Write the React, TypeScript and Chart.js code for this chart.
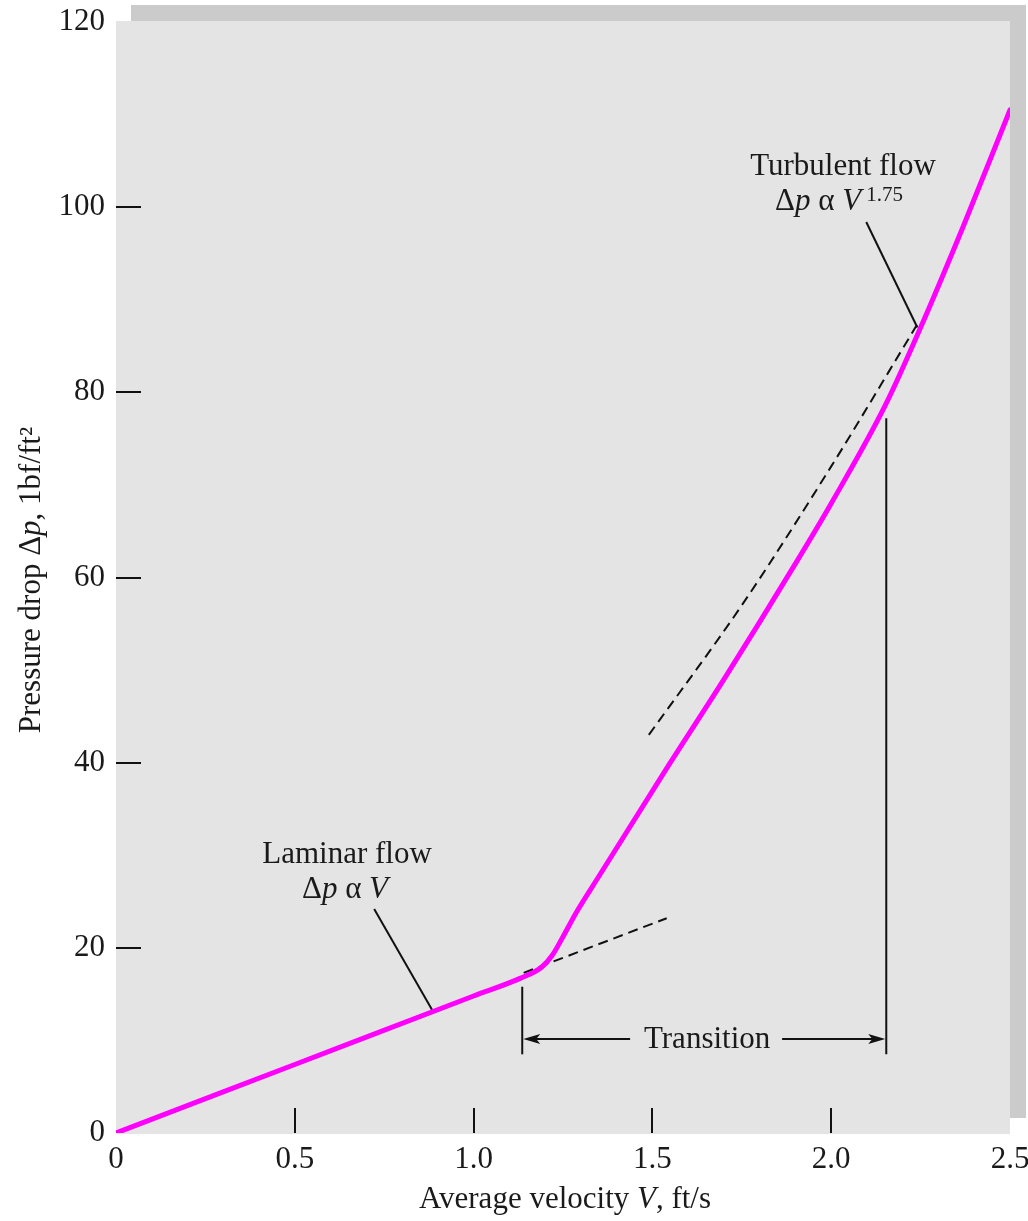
import React, { useEffect, useRef } from "react";
import { Chart, registerables } from "chart.js";

Chart.register(...registerables);

const FONT = '"Liberation Serif", "Times New Roman", serif';

// Axis ticks
const xTickValues = [0, 0.5, 1.0, 1.5, 2.0, 2.5];
const xTickLabels = ["0", "0.5", "1.0", "1.5", "2.0", "2.5"];
const yTickValues = [0, 20, 40, 60, 80, 100, 120];
const yTickLabels = ["0", "20", "40", "60", "80", "100", "120"];

// Main measured curve (velocity ft/s, pressure drop lbf/ft2)
const curveV = [0, 0.5, 1.0, 1.13, 1.19, 1.22, 1.25, 1.29, 1.35, 1.55, 1.7, 1.9, 2.0, 2.15, 2.25, 2.37, 2.5];
const curveDp = [0, 7.4, 14.8, 16.7, 17.9, 19.2, 21.2, 24.0, 27.7, 40.0, 49.0, 61.5, 68.0, 78.5, 87.0, 98.0, 110.5];

// Dashed asymptotes
const laminarDashV = [1.14, 1.54];
const laminarDashDp = [17.3, 23.2];
const turbulentDashV = [1.49, 1.75, 2.0, 2.24];
const turbulentDashDp = [43.0, 57.0, 72.0, 87.3];

// Pointer leader lines
const laminarPointerV = [0.722, 0.887];
const laminarPointerDp = [24.2, 13.1];
const turbulentPointerV = [2.098, 2.241];
const turbulentPointerDp = [98.4, 87.0];

// Transition range markers
const transitionV = [1.136, 2.154];
const transitionLeftDp = [8.5, 15.8];
const transitionRightDp = [8.5, 77.2];
const transitionArrowDp = 10.15;
const transitionLabelV = 1.653;

const pts = (xs: number[], ys: number[]) => xs.map((x, i) => ({ x, y: ys[i] }));

type Part = { t: string; italic?: boolean; size?: number; dy?: number };

function drawRich(ctx: CanvasRenderingContext2D, parts: Part[], x: number, y: number, align: "center" | "left", baseSize: number) {
  const font = (p: Part) => `${p.italic ? "italic " : ""}${p.size ?? baseSize}px ${FONT}`;
  let total = 0;
  for (const p of parts) {
    ctx.font = font(p);
    total += ctx.measureText(p.t).width;
  }
  let cx = align === "center" ? x - total / 2 : x;
  ctx.textAlign = "left";
  ctx.textBaseline = "alphabetic";
  for (const p of parts) {
    ctx.font = font(p);
    ctx.fillText(p.t, cx, y + (p.dy ?? 0));
    cx += ctx.measureText(p.t).width;
  }
}

const backgroundPlugin = {
  id: "bgPanel",
  beforeDraw(chart: any) {
    const { ctx, chartArea: a } = chart;
    ctx.save();
    ctx.fillStyle = "#cbcbcb";
    ctx.fillRect(a.left + 15, a.top - 17, a.right - a.left + 1, a.bottom - a.top + 2);
    ctx.fillStyle = "#e4e4e4";
    ctx.fillRect(a.left, a.top - 1, a.right - a.left, a.bottom - a.top + 2);
    ctx.restore();
  },
};

const decorPlugin = {
  id: "decor",
  afterDatasetsDraw(chart: any) {
    const { ctx, chartArea: a } = chart;
    const xs = chart.scales.x;
    const ys = chart.scales.y;
    const TEXT = "#1a1a1a";
    ctx.save();
    ctx.strokeStyle = "#111";
    ctx.fillStyle = "#111";
    ctx.lineWidth = 2;

    // inward tick marks
    for (const v of yTickValues) {
      if (v === yTickValues[0] || v === yTickValues[yTickValues.length - 1]) continue;
      const py = Math.round(ys.getPixelForValue(v));
      ctx.beginPath();
      ctx.moveTo(a.left, py);
      ctx.lineTo(a.left + 25, py);
      ctx.stroke();
    }
    for (const v of xTickValues) {
      if (v === xTickValues[0] || v === xTickValues[xTickValues.length - 1]) continue;
      const px = Math.round(xs.getPixelForValue(v));
      ctx.beginPath();
      ctx.moveTo(px, a.bottom);
      ctx.lineTo(px, a.bottom - 25);
      ctx.stroke();
    }

    // transition arrow
    const ay = ys.getPixelForValue(transitionArrowDp);
    const x1 = xs.getPixelForValue(transitionV[0]);
    const x2 = xs.getPixelForValue(transitionV[1]);
    const xc = xs.getPixelForValue(transitionLabelV);
    ctx.lineWidth = 2;
    ctx.beginPath();
    ctx.moveTo(x1 + 10, ay);
    ctx.lineTo(xc - 77, ay);
    ctx.moveTo(xc + 75, ay);
    ctx.lineTo(x2 - 10, ay);
    ctx.stroke();
    const head = (tipX: number, dir: number) => {
      ctx.beginPath();
      ctx.moveTo(tipX, ay);
      ctx.lineTo(tipX - dir * 17, ay - 5);
      ctx.lineTo(tipX - dir * 13, ay);
      ctx.lineTo(tipX - dir * 17, ay + 5);
      ctx.closePath();
      ctx.fill();
    };
    head(x1 + 1, -1);
    head(x2 - 1, 1);

    ctx.fillStyle = TEXT;
    drawRich(ctx, [{ t: "Transition" }], xc, ay + 9, "center", 31);

    // annotations
    drawRich(ctx, [{ t: "Laminar flow" }], 347, 863, "center", 31);
    drawRich(ctx, [{ t: "Δ" }, { t: "p", italic: true }, { t: " α " }, { t: "V", italic: true }], 345, 898, "center", 31);

    drawRich(ctx, [{ t: "Turbulent flow" }], 843, 175, "center", 31);
    drawRich(
      ctx,
      [{ t: "Δ" }, { t: "p", italic: true }, { t: " α " }, { t: "V", italic: true }, { t: " 1.75", size: 21, dy: -9 }],
      775,
      210,
      "left",
      31
    );

    // axis titles
    drawRich(ctx, [{ t: "Average velocity " }, { t: "V", italic: true }, { t: ", ft/s" }], (a.left + a.right) / 2 + 2, 1208, "center", 31);
    ctx.save();
    ctx.translate(40, 580);
    ctx.rotate(-Math.PI / 2);
    drawRich(ctx, [{ t: "Pressure drop Δ" }, { t: "p", italic: true }, { t: ", 1bf/ft²" }], 0, 0, "center", 31);
    ctx.restore();

    ctx.restore();
  },
};

export default function App() {
  const ref = useRef<HTMLCanvasElement | null>(null);

  useEffect(() => {
    if (!ref.current) return;
    const black = "#111111";
    const chart = new Chart(ref.current, {
      type: "line",
      data: {
        datasets: [
          {
            label: "Pressure drop",
            data: pts(curveV, curveDp),
            borderColor: "#ff00ff",
            borderWidth: 5,
            pointRadius: 0,
            cubicInterpolationMode: "monotone",
            borderCapStyle: "round",
          },
          {
            label: "Laminar asymptote",
            data: pts(laminarDashV, laminarDashDp),
            borderColor: black,
            borderWidth: 2,
            borderDash: [10, 6],
            pointRadius: 0,
          },
          {
            label: "Turbulent asymptote",
            data: pts(turbulentDashV, turbulentDashDp),
            borderColor: black,
            borderWidth: 2,
            borderDash: [10, 6],
            pointRadius: 0,
            cubicInterpolationMode: "monotone",
          },
          {
            label: "Laminar pointer",
            data: pts(laminarPointerV, laminarPointerDp),
            borderColor: black,
            borderWidth: 2,
            pointRadius: 0,
          },
          {
            label: "Turbulent pointer",
            data: pts(turbulentPointerV, turbulentPointerDp),
            borderColor: black,
            borderWidth: 2,
            pointRadius: 0,
          },
          {
            label: "Transition start",
            data: pts([transitionV[0], transitionV[0]], transitionLeftDp),
            borderColor: black,
            borderWidth: 2,
            pointRadius: 0,
          },
          {
            label: "Transition end",
            data: pts([transitionV[1], transitionV[1]], transitionRightDp),
            borderColor: black,
            borderWidth: 2,
            pointRadius: 0,
          },
        ],
      },
      options: {
        responsive: false,
        animation: false,
        events: [],
        layout: { padding: { top: 22, right: 18, left: 0, bottom: 0 } },
        plugins: {
          legend: { display: false },
          tooltip: { enabled: false },
        },
        scales: {
          x: {
            type: "linear",
            min: 0,
            max: 2.5,
            afterFit: (s: any) => {
              s.height = 88;
              s.paddingLeft = 0;
              s.paddingRight = 0;
            },
            afterBuildTicks: (s: any) => {
              s.ticks = xTickValues.map((v) => ({ value: v }));
            },
            grid: { display: false, drawTicks: false },
            border: { display: false },
            ticks: {
              autoSkip: false,
              maxRotation: 0,
              padding: 8,
              color: "#1a1a1a",
              font: { family: FONT, size: 31 },
              callback: (v: any) => xTickLabels[xTickValues.indexOf(Number(v))] ?? "",
            },
          },
          y: {
            type: "linear",
            min: 0,
            max: 120,
            afterFit: (s: any) => {
              s.width = 116;
              s.paddingTop = 0;
              s.paddingBottom = 0;
            },
            afterBuildTicks: (s: any) => {
              s.ticks = yTickValues.map((v) => ({ value: v }));
            },
            grid: { display: false, drawTicks: false },
            border: { display: false },
            ticks: {
              autoSkip: false,
              padding: 11,
              color: "#1a1a1a",
              font: { family: FONT, size: 31 },
              callback: (v: any) => yTickLabels[yTickValues.indexOf(Number(v))] ?? "",
            },
          },
        },
      },
      plugins: [backgroundPlugin, decorPlugin],
    } as any);
    return () => chart.destroy();
  }, []);

  return (
    <div style={{ position: "fixed", left: 0, top: 0, width: 1028, height: 1221, background: "#fff" }}>
      <canvas ref={ref} width={1028} height={1221} style={{ display: "block", width: 1028, height: 1221 }} />
    </div>
  );
}
